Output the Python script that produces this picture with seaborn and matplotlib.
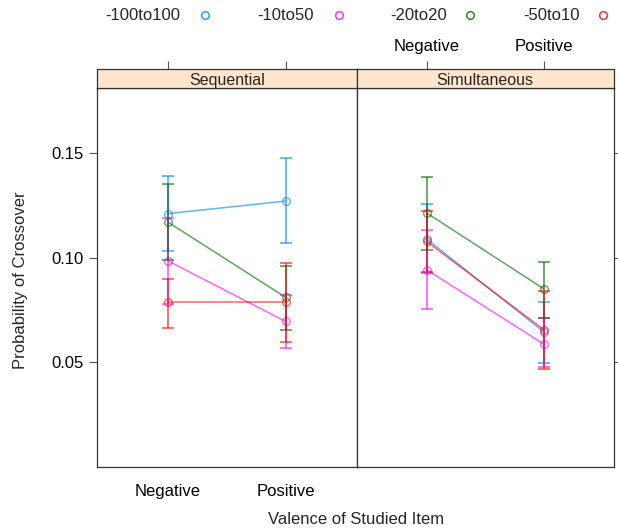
import numpy as np
import pandas as pd
import matplotlib
matplotlib.use("Agg")
import matplotlib.pyplot as plt
import seaborn as sns
from matplotlib.lines import Line2D

# --- data ---
ranges = ["-100to100", "-10to50", "-20to20", "-50to10"]
colors = ["#0080ff", "#ff00ff", "#006400", "#ff0000"]
valence = ["Negative", "Positive"]
panels = ["Sequential", "Simultaneous"]

# one row per range, columns = Negative, Positive
seq_mean = [[0.121, 0.127], [0.0985, 0.0695], [0.117, 0.081], [0.0786, 0.0786]]
seq_lo = [[0.103, 0.107], [0.078, 0.057], [0.099, 0.0656], [0.0664, 0.0595]]
seq_hi = [[0.139, 0.1476], [0.119, 0.082], [0.135, 0.0958], [0.090, 0.0974]]

sim_mean = [[0.1089, 0.0645], [0.0942, 0.0587], [0.1213, 0.0851], [0.1077, 0.0656]]
sim_lo = [[0.0926, 0.0497], [0.0756, 0.0477], [0.1038, 0.0711], [0.093, 0.0468]]
sim_hi = [[0.1256, 0.0788], [0.1130, 0.0710], [0.1385, 0.0979], [0.1224, 0.0842]]

rows = []
for pname, m, lo, hi in [("Sequential", seq_mean, seq_lo, seq_hi),
                         ("Simultaneous", sim_mean, sim_lo, sim_hi)]:
    for i, r in enumerate(ranges):
        for j, v in enumerate(valence):
            rows.append({"panel": pname, "range": r, "x": j + 1, "valence": v,
                         "p": m[i][j], "lo": lo[i][j], "hi": hi[i][j]})
df = pd.DataFrame(rows)

sns.set_style("white")
plt.rcParams["font.family"] = ["Liberation Sans", "DejaVu Sans"]

W, H = 618, 531
fig = plt.figure(figsize=(W / 100, H / 100), dpi=100)


def fx(px):
    return px / W


def fy(py):
    return 1 - py / H


left, mid, right = 97, 356.5, 614
top, strip_top, bottom = 88, 69, 467
frame_col = "#333333"
tick_col = "#555555"
pal = dict(zip(ranges, colors))
xlim = (0.4, 2.6)
tick_fs = 12

for k, pname in enumerate(panels):
    x0 = left if k == 0 else mid
    x1 = mid if k == 0 else right
    ax = fig.add_axes([fx(x0), fy(bottom), fx(x1 - x0), fy(top) - fy(bottom)])
    sub = df[df["panel"] == pname]

    sns.lineplot(data=sub, x="x", y="p", hue="range", palette=pal,
                 hue_order=ranges, marker="o", markersize=5.5,
                 markerfacecolor="none", markeredgewidth=1.0,
                 linewidth=1.1, alpha=0.6, legend=False, ax=ax)
    for line in ax.lines:
        line.set_markeredgecolor(line.get_color())

    for r in ranges:
        s = sub[sub["range"] == r]
        ax.errorbar(s["x"], s["p"], yerr=[s["p"] - s["lo"], s["hi"] - s["p"]],
                    fmt="none", ecolor=pal[r], alpha=0.6, elinewidth=1.3,
                    capsize=4.5, capthick=1.3)

    ax.set_xlim(*xlim)
    ax.set_ylim(0.0, 0.181)
    ax.set_xticks([1, 2])
    ax.set_yticks([0.05, 0.10, 0.15])
    ax.set_xlabel("")
    ax.set_ylabel("")
    for sp in ax.spines.values():
        sp.set_color(frame_col)
        sp.set_linewidth(0.9)
    ax.tick_params(direction="out", length=6, width=0.8, colors=tick_col,
                   labelcolor="black", labelsize=tick_fs)
    if k == 0:
        ax.set_xticklabels(valence)
        ax.set_yticklabels(["0.05", "0.10", "0.15"])
        ax.tick_params(axis="y", left=True, right=False, labelleft=True)
        ax.tick_params(axis="x", pad=6)
    else:
        ax.set_xticklabels(["", ""])
        ax.yaxis.tick_right()
        ax.tick_params(axis="y", left=False, right=True, labelright=False)

    # strip with top ticks
    sax = fig.add_axes([fx(x0), fy(top), fx(x1 - x0), fy(strip_top) - fy(top)])
    sax.set_xlim(*xlim)
    sax.set_facecolor("#ffe5cc")
    sax.set_yticks([])
    sax.set_xticks([1, 2])
    sax.xaxis.tick_top()
    sax.tick_params(axis="x", direction="out", length=6, width=0.8,
                    colors=tick_col, labelcolor="black", labelsize=tick_fs, pad=5)
    sax.tick_params(axis="x", bottom=False, labelbottom=False)
    if k == 1:
        sax.set_xticklabels(valence)
    else:
        sax.set_xticklabels(["", ""])
    for sp in sax.spines.values():
        sp.set_color(frame_col)
        sp.set_linewidth(0.9)
    sax.text(0.5, 0.42, pname, transform=sax.transAxes, ha="center",
             va="center", fontsize=11.5)

# legend drawn across the top
legend_text_x = [143, 286, 419, 551]
legend_mark_x = [205, 339, 470, 603]
for r, c, tx, mx in zip(ranges, colors, legend_text_x, legend_mark_x):
    fig.text(fx(tx), fy(15), r, ha="center", va="center", fontsize=12)
    fig.add_artist(Line2D([fx(mx)], [fy(15)], marker="o", markersize=5.5,
                          markerfacecolor="none", markeredgecolor=c,
                          markeredgewidth=1.1, alpha=0.8, linestyle="none"))

fig.text(fx(21), fy(280), "Probability of Crossover", rotation=90,
         ha="center", va="center", fontsize=12)
fig.text(fx(356), fy(520), "Valence of Studied Item", ha="center",
         va="center", fontsize=12)

fig.savefig("out.png", dpi=100)
